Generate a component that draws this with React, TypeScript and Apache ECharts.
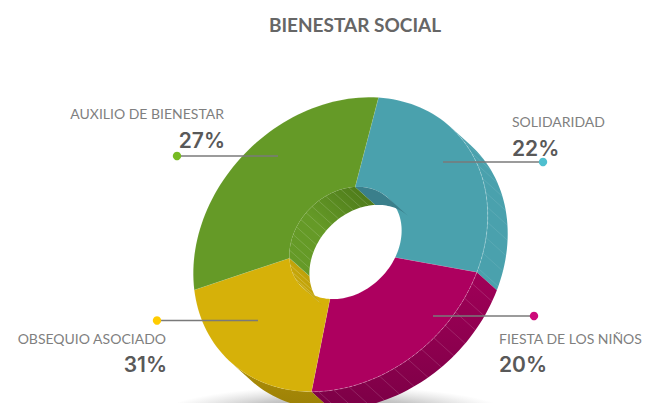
import React, { useEffect, useRef } from "react";
import * as echarts from "echarts";

const title = "BIENESTAR SOCIAL";
const categories = ["SOLIDARIDAD", "FIESTA DE LOS NIÑOS", "OBSEQUIO ASOCIADO", "AUXILIO DE BIENESTAR"];
const percentLabels = ["22%", "20%", "31%", "27%"];
// Share of the ring that each slice visibly takes in the picture
const sliceShares = [27, 22, 20, 31];
const faceColors = ["#4AA1AD", "#AD005F", "#D6B109", "#659A27"];
const dotColors = ["#4FBFCF", "#CC0A7A", "#FFCC00", "#77BB22"];
const sideColors = [["#4AA1AD", "#4AA1AD"], ["#A00058", "#7C0046"], ["#AD8F08", "#9C8006"], ["#659A27", "#659A27"]];
const holeColors = [["#3A7F8B", "#3A7F8B"], ["#AD005F", "#AD005F"], ["#B09409", "#C4A509"], ["#4A7518", "#659A27"]];
const sideHatch = [0.13, 0.2, 0, 0];
const holeHatch = [0, 0, 0.3, 0.22];
const innerEdgeShift = [-5.8, 4.8, 4, 3];

const START = -35.7;
const OUTER = { cx: 340.5, cy: 244.5, a: 161, b: 132 };
const INNER = { cx: 345.5, cy: 243, a: 62, b: 49.5 };
const DEPTH = { x: 20, y: 18 };
const TANGENT = -2.3;
const R = Math.SQRT1_2;

type Ell = typeof OUTER;
const pt = (e: Ell, deg: number, off = 0): number[] => {
  const t = (deg * Math.PI) / 180;
  const p = e.a * Math.cos(t);
  const q = e.b * Math.sin(t);
  return [e.cx + R * (p + q) + off * DEPTH.x, e.cy + R * (q - p) + off * DEPTH.y];
};
const arc = (e: Ell, from: number, to: number, off = 0): number[][] => {
  const out: number[][] = [];
  const n = Math.max(2, Math.ceil(Math.abs(to - from) / 2));
  for (let i = 0; i <= n; i++) out.push(pt(e, from + ((to - from) * i) / n, off));
  return out;
};

let acc = START;
const sweep = sliceShares.map((s, i) => {
  const from = acc;
  acc += (s / 100) * 360;
  const n = sliceShares.length;
  return { value: [from, acc, i, from + innerEdgeShift[i], acc + innerEdgeShift[(i + 1) % n]] };
});

// intersection of [from,to] with the visible half-turn that begins at `begin`
const clip = (from: number, to: number, begin: number): number[] | null => {
  for (const k of [-360, 0, 360]) {
    const s = Math.max(from, begin + k);
    const e = Math.min(to, begin + 180 + k);
    if (e > s) return [s, e];
  }
  return null;
};

const wall =
  (e: Ell, begin: number, colors: string[][], hatch: number[], step: number, flip: boolean, dims: number[]) =>
  (_p: any, api: any) => {
    const i = api.value(2);
    const range = clip(api.value(dims[0]), api.value(dims[1]), begin);
    if (!range) return { type: "group", children: [] };
    const [s, f] = range;
    const c = colors[i];
    const children: any[] = [
      {
        type: "polygon",
        shape: { points: [...arc(e, s, f), ...arc(e, f, s, 1)] },
        style: {
          fill: {
            type: "linear",
            x: 0,
            y: flip ? 1 : 0,
            x2: flip ? 1 : 0,
            y2: flip ? 0 : 1,
            colorStops: flip
              ? [{ offset: 0, color: c[1] }, { offset: 0.45, color: c[1] }, { offset: 1, color: c[0] }]
              : [{ offset: 0, color: c[0] }, { offset: 1, color: c[1] }],
          },
        },
      },
    ];
    if (hatch[i] > 0) {
      for (let t = Math.ceil(s / step) * step; t < f; t += step) {
        const a = pt(e, t);
        const b = pt(e, t, 1);
        children.push({
          type: "line",
          shape: { x1: a[0], y1: a[1], x2: b[0], y2: b[1] },
          style: { stroke: `rgba(255,255,255,${hatch[i]})`, lineWidth: 0.7 },
        });
      }
    }
    return { type: "group", children };
  };

const face = (_p: any, api: any) => {
  const i = api.value(2);
  return {
    type: "polygon",
    shape: { points: [...arc(OUTER, api.value(0), api.value(1)), ...arc(INNER, api.value(4), api.value(3))] },
    style: { fill: faceColors[i], stroke: "rgba(255,255,255,0.15)", lineWidth: 0.5 },
  };
};

const rim = (_p: any, api: any) => {
  const range = clip(api.value(0), api.value(1), TANGENT);
  if (!range || sideHatch[api.value(2)] === 0) return { type: "group", children: [] };
  return {
    type: "polyline",
    shape: { points: arc(OUTER, range[0], range[1]) },
    style: { fill: "none", stroke: "rgba(255,255,255,0.3)", lineWidth: 0.8, lineDash: [3, 2] },
  };
};

const custom = (renderItem: any, z: number) => ({
  type: "custom",
  coordinateSystem: "none",
  silent: true,
  clip: false,
  z,
  data: sweep,
  renderItem,
});

const callouts = [
  { dot: [543, 162], end: 443, nameX: 512, nameY: 121, pctY: 148, align: "left" },
  { dot: [534, 316], end: 433, nameX: 499, nameY: 338, pctY: 364, align: "left" },
  { dot: [157, 320.5], end: 258, nameX: 166, nameY: 338, pctY: 364, align: "right" },
  { dot: [177, 156], end: 278, nameX: 224, nameY: 113.5, pctY: 140, align: "right" },
];

export default function App() {
  const ref = useRef<HTMLDivElement>(null);
  useEffect(() => {
    document.body.style.margin = "0";
    const chart = echarts.init(ref.current!, undefined, { renderer: "svg" });
    const graphic: any[] = [
      {
        type: "ellipse",
        z: 1,
        shape: { cx: 335, cy: 416, rx: 178, ry: 30 },
        style: {
          fill: {
            type: "radial",
            x: 0.5,
            y: 0.5,
            r: 0.5,
            colorStops: [
              { offset: 0, color: "rgba(70,70,70,0.7)" },
              { offset: 0.6, color: "rgba(110,110,110,0.38)" },
              { offset: 1, color: "rgba(150,150,150,0)" },
            ],
          },
        },
      },
    ];
    callouts.forEach((c, i) => {
      graphic.push(
        {
          type: "line",
          z: 20,
          shape: { x1: c.dot[0], y1: c.dot[1], x2: c.end, y2: c.dot[1] },
          style: { stroke: "#7A7A7A", lineWidth: 1.3 },
        },
        { type: "circle", z: 21, shape: { cx: c.dot[0], cy: c.dot[1], r: 4.2 }, style: { fill: dotColors[i] } },
        {
          type: "text",
          z: 21,
          x: c.nameX,
          y: c.nameY,
          style: {
            text: categories[i],
            fill: "#7F7F7F",
            font: '400 14px "Lato"',
            align: c.align,
            verticalAlign: "middle",
          },
        },
        {
          type: "text",
          z: 21,
          x: c.align === "right" ? c.nameX + 1 : c.nameX,
          y: c.pctY,
          style: {
            text: percentLabels[i],
            fill: "#595959",
            font: '600 21px "Inter"',
            align: c.align,
            verticalAlign: "middle",
          },
        }
      );
    });
    chart.setOption({
      animation: false,
      backgroundColor: "#ffffff",
      title: {
        text: title,
        left: 350,
        top: 10,
        textAlign: "center",
        textStyle: { color: "#666666", fontFamily: "Lato", fontSize: 19, fontWeight: 700 },
      },
      graphic,
      series: [
        custom(wall(OUTER, TANGENT, sideColors, sideHatch, 6, false, [0, 1]), 3),
        custom(face, 4),
        custom(rim, 5),
        custom(wall(INNER, TANGENT + 180, holeColors, holeHatch, 8, true, [3, 4]), 6),
      ],
    });
    return () => chart.dispose();
  }, []);
  return <div ref={ref} style={{ width: 645, height: 403 }} />;
}
